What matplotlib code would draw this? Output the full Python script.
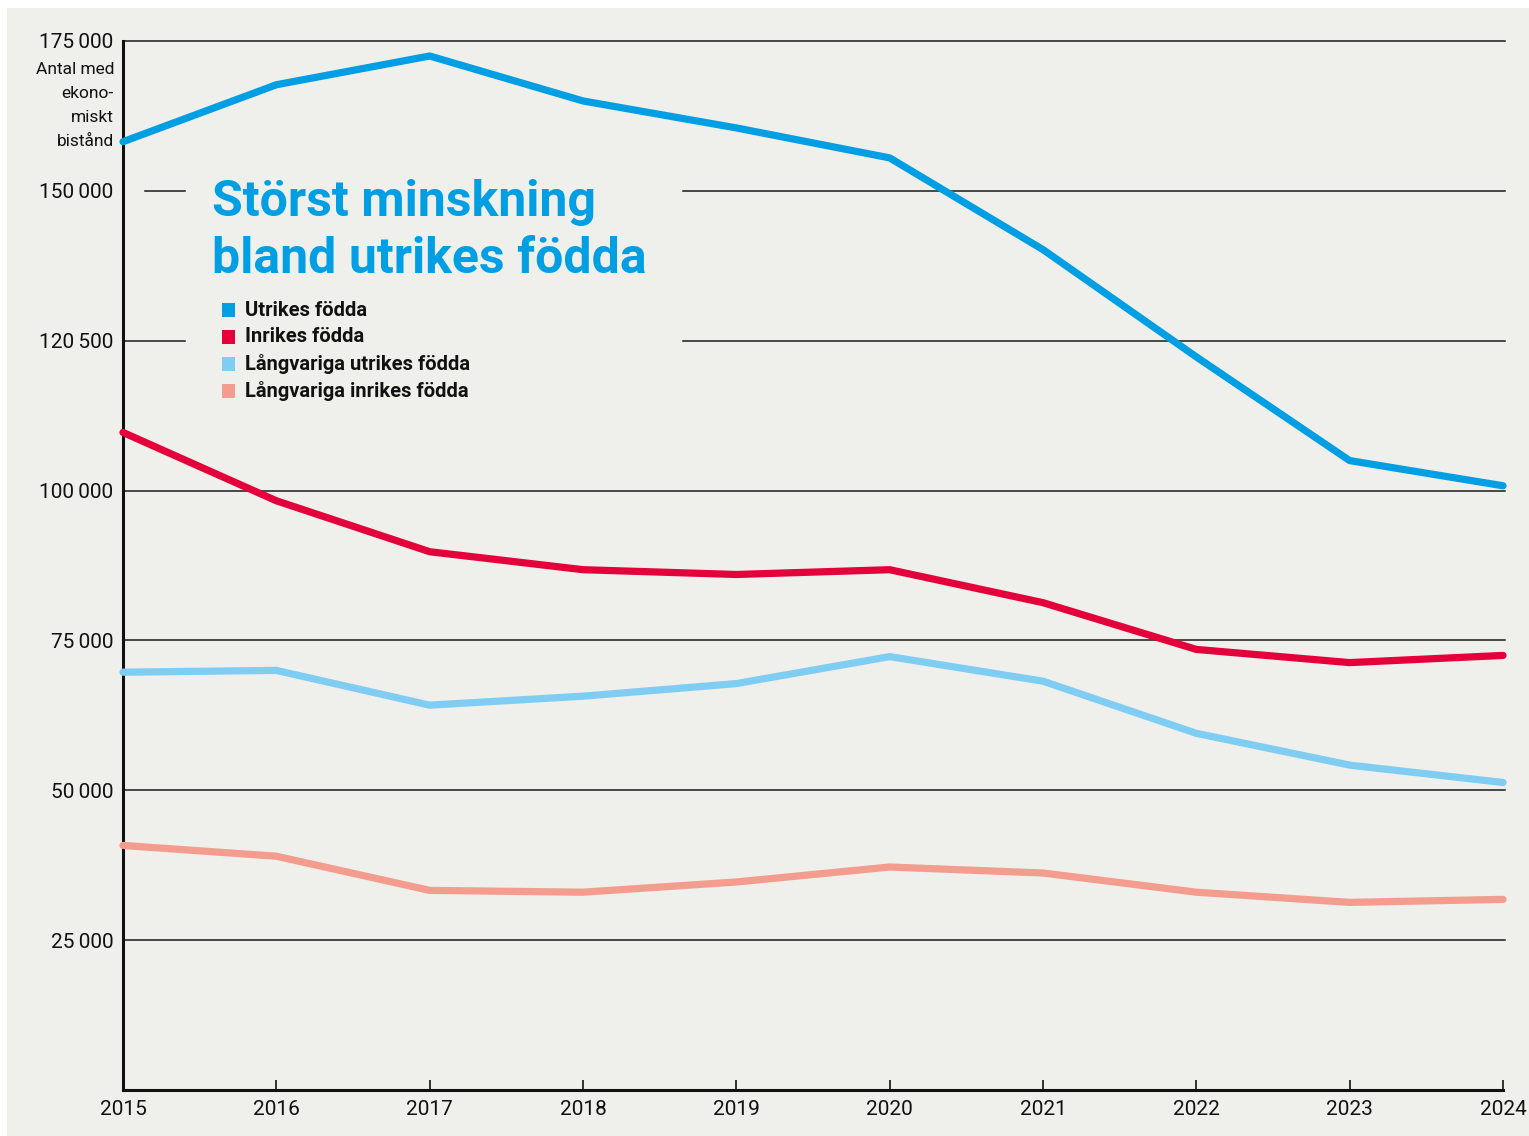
import numpy as np
import matplotlib.pyplot as plt
from matplotlib.patches import Rectangle

# Data
years = [2015, 2016, 2017, 2018, 2019, 2020, 2021, 2022, 2023, 2024]
utrikes = [158200, 167700, 172500, 165000, 160500, 155500, 140200, 122300, 105000, 100800]
inrikes = [109700, 98300, 89800, 86800, 86000, 86800, 81300, 73500, 71300, 72500]
lang_utrikes = [69700, 70000, 64200, 65700, 67800, 72300, 68200, 59500, 54200, 51300]
lang_inrikes = [40800, 39000, 33300, 33000, 34700, 37200, 36200, 33000, 31300, 31800]

series_names = ['Utrikes födda', 'Inrikes födda', 'Långvariga utrikes födda', 'Långvariga inrikes födda']
series_colors = ['#009fe3', '#e4003a', '#80cdf3', '#f49c8e']

ytick_vals = [25000, 50000, 75000, 100000, 125000, 150000, 175000]
ytick_labels = ['25\u2009000', '50\u2009000', '75\u2009000', '100\u2009000',
                '120\u2009500', '150\u2009000', '175\u2009000']

title = 'Störst minskning\nbland utrikes födda'
ylabel = 'Antal med\nekono-\nmiskt\nbistånd'

bg = '#efefeb'
plt.rcParams['font.family'] = ['Roboto', 'DejaVu Sans']

W, H = 1529, 1136
fig = plt.figure(figsize=(W / 100, H / 100), dpi=100, facecolor='white')
fig.patches.append(Rectangle((7 / W, 0.5 / H), 1, (H - 8.5) / H, transform=fig.transFigure,
                             facecolor=bg, edgecolor='none', zorder=-10))

ax = fig.add_axes([123 / W, 46 / H, 1380 / W, 1049 / H])
ax.set_facecolor('none')

# gridlines (broken where the title sits)
def fx(px):
    return (px - 123) / 1380

for v in ytick_vals:
    if v == 150000:
        segs = [(fx(145), fx(185)), (fx(683), fx(1505))]
    elif v == 125000:
        segs = [(0, fx(185)), (fx(683), fx(1505))]
    else:
        segs = [(0, fx(1505))]
    for a, b in segs:
        ax.axhline(v, xmin=a, xmax=b, color='#1a1a1a', lw=1.1, clip_on=False, zorder=1)

all_series = [utrikes, inrikes, lang_utrikes, lang_inrikes]
for vals, c in zip(all_series, series_colors):
    ax.plot(years, vals, color=c, lw=5.2, solid_capstyle='round', solid_joinstyle='round',
            zorder=3, clip_on=False)

ax.set_xlim(2015, 2024)
ax.set_ylim(0, 175000)
ax.set_xticks(years)
ax.set_xticklabels([str(y) for y in years])
ax.set_yticks(ytick_vals)
ax.set_yticklabels(ytick_labels)

for s in ['top', 'right']:
    ax.spines[s].set_visible(False)
for s in ['left', 'bottom']:
    ax.spines[s].set_linewidth(2.2)
    ax.spines[s].set_color('#111111')

ax.tick_params(axis='x', direction='in', length=7, width=1.2, color='#111111',
               labelsize=15, pad=7)
ax.tick_params(axis='y', length=0, labelsize=15, pad=7)
for lbl in ax.get_xticklabels() + ax.get_yticklabels():
    lbl.set_color('#111111')

# y-axis unit text
fig.text(114 / W, 1 - 62 / H, ylabel, ha='right', va='top', fontsize=12.5,
         color='#111111', linespacing=1.74)

# title, one text per line
for i, line in enumerate(title.split('\n')):
    fig.text(212 / W, 1 - (216 + 57 * i) / H, line, ha='left', va='baseline', fontsize=36,
             fontweight='bold', color='#009fe3')

# legend (manual)
for i, (name, c) in enumerate(zip(series_names, series_colors)):
    yc = 310 + i * 27
    fig.patches.append(Rectangle((222 / W, 1 - (yc + 7) / H), 13 / W, 14 / H,
                                 transform=fig.transFigure, facecolor=c, edgecolor='none'))
    fig.text(245 / W, 1 - yc / H, name, ha='left', va='center', fontsize=14.5,
             fontweight='bold', color='#111111')

fig.savefig('out.png', dpi=100, facecolor='white')
